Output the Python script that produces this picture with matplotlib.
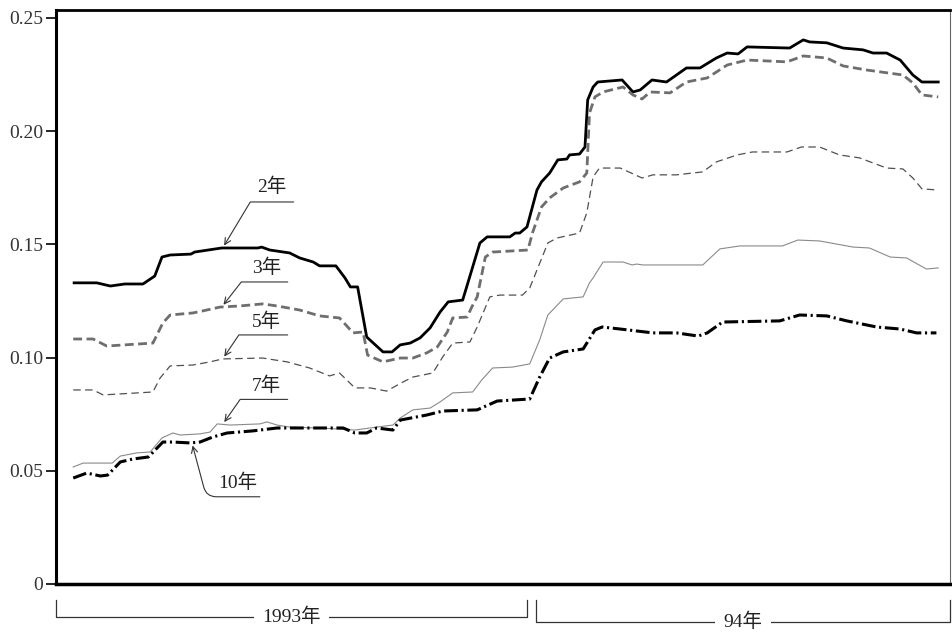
import matplotlib.pyplot as plt
import matplotlib.transforms as mtransforms
import numpy as np

plt.rcParams['font.family'] = ['Liberation Serif', 'Noto Sans CJK SC']

# x = weeks counted from the start of 1993, y = yield level
wk_2y = [2.0, 4.5, 6.0, 7.6, 9.6, 10.9, 11.7, 12.6, 14.9, 15.3, 18.3, 22.3, 22.7, 23.6, 25.8,
         26.9, 28.4, 29.1, 30.9, 31.9, 32.5, 33.3, 34.3, 36.1, 37.1, 38.0, 39.1, 40.2, 41.3, 42.4,
         43.3, 44.9, 46.8, 47.6, 50.1, 50.7, 51.2, 52.0, 53.1, 53.6, 54.5, 55.4, 56.4, 56.7, 57.8,
         58.4, 58.7, 59.3, 59.8, 62.5, 63.7, 64.5, 65.8, 67.4, 69.6, 71.1, 72.9, 74.1, 75.3, 76.3,
         81.0, 82.5, 83.2, 85.1, 86.9, 89.1, 90.2, 91.7, 93.2, 94.6, 95.6, 97.4]
r_2y = [0.1330, 0.1330, 0.1316, 0.1325, 0.1325, 0.1360, 0.1444, 0.1453, 0.1457, 0.1466, 0.1484, 0.1484, 0.1488, 0.1475, 0.1462,
        0.1440, 0.1422, 0.1405, 0.1405, 0.1352, 0.1312, 0.1312, 0.1091, 0.1025, 0.1025, 0.1056, 0.1064, 0.1087, 0.1131, 0.1201,
        0.1246, 0.1254, 0.1506, 0.1533, 0.1533, 0.1550, 0.1550, 0.1577, 0.1740, 0.1776, 0.1815, 0.1873, 0.1877, 0.1895, 0.1899,
        0.1930, 0.2138, 0.2195, 0.2217, 0.2226, 0.2173, 0.2182, 0.2226, 0.2217, 0.2279, 0.2279, 0.2323, 0.2345, 0.2341, 0.2372,
        0.2367, 0.2403, 0.2394, 0.2390, 0.2367, 0.2359, 0.2345, 0.2345, 0.2314, 0.2248, 0.2217, 0.2217]

wk_3y = [1.9, 4.1, 5.6, 10.7, 11.8, 12.6, 15.1, 16.2, 18.1, 20.3, 22.8, 24.4, 26.9, 29.1, 31.3,
         32.8, 33.9, 34.4, 36.1, 38.0, 39.4, 40.9, 42.1, 43.2, 43.8, 45.4, 45.9, 46.5, 47.4, 48.2,
         52.1, 52.6, 53.6, 54.5, 56.0, 57.8, 58.6, 58.9, 59.5, 60.4, 62.6, 63.7, 64.7, 65.6, 67.8,
         69.6, 71.9, 74.1, 76.3, 80.7, 82.5, 85.1, 86.9, 89.5, 93.5, 94.6, 95.6, 97.4]
r_3y = [0.1082, 0.1082, 0.1051, 0.1064, 0.1153, 0.1188, 0.1197, 0.1206, 0.1223, 0.1228, 0.1237, 0.1228, 0.1210, 0.1184, 0.1175,
        0.1109, 0.1113, 0.1011, 0.0981, 0.0998, 0.0998, 0.1020, 0.1047, 0.1113, 0.1175, 0.1179, 0.1223, 0.1268, 0.1444, 0.1466,
        0.1475, 0.1550, 0.1665, 0.1705, 0.1749, 0.1776, 0.1815, 0.2080, 0.2151, 0.2173, 0.2195, 0.2160, 0.2142, 0.2173, 0.2169,
        0.2217, 0.2235, 0.2292, 0.2314, 0.2306, 0.2332, 0.2323, 0.2288, 0.2270, 0.2248, 0.2213, 0.2160, 0.2151]

wk_5y = [1.9, 4.1, 5.2, 10.7, 11.5, 12.6, 15.1, 17.0, 18.4, 22.8, 25.5, 28.0, 30.2, 31.3, 33.0,
         34.7, 36.5, 38.3, 39.4, 41.6, 42.7, 43.8, 45.7, 46.5, 47.9, 49.0, 51.5, 52.3, 54.3, 55.3,
         57.8, 58.6, 59.3, 60.0, 62.3, 64.7, 65.9, 68.5, 71.4, 72.9, 75.2, 76.9, 80.7, 82.3, 84.3,
         86.5, 88.7, 91.7, 93.5, 94.6, 95.6, 97.4]
r_5y = [0.0857, 0.0857, 0.0835, 0.0848, 0.0910, 0.0963, 0.0967, 0.0981, 0.0994, 0.0998, 0.0981, 0.0954, 0.0919, 0.0932, 0.0866,
        0.0866, 0.0852, 0.0892, 0.0914, 0.0932, 0.1003, 0.1064, 0.1069, 0.1135, 0.1268, 0.1276, 0.1276, 0.1307, 0.1506, 0.1528,
        0.1550, 0.1639, 0.1798, 0.1837, 0.1837, 0.1793, 0.1807, 0.1807, 0.1820, 0.1864, 0.1895, 0.1908, 0.1908, 0.1930, 0.1930,
        0.1895, 0.1882, 0.1837, 0.1833, 0.1793, 0.1745, 0.1740]

wk_7y = [1.9, 3.0, 6.2, 7.1, 8.9, 10.4, 11.7, 12.9, 13.7, 15.9, 17.0, 17.8, 19.2, 22.5, 23.3,
         24.4, 25.8, 29.1, 33.0, 35.4, 37.2, 38.0, 39.4, 41.3, 42.4, 43.8, 46.0, 47.0, 48.2, 50.4,
         52.3, 53.4, 54.3, 56.0, 58.2, 58.9, 59.3, 60.4, 62.6, 63.6, 64.1, 64.8, 71.4, 73.3, 75.5,
         80.2, 81.9, 84.3, 88.0, 89.8, 92.1, 93.9, 96.1, 97.4]
r_7y = [0.0517, 0.0534, 0.0534, 0.0565, 0.0579, 0.0583, 0.0645, 0.0667, 0.0658, 0.0663, 0.0671, 0.0707, 0.0702, 0.0707, 0.0716,
        0.0702, 0.0693, 0.0689, 0.0680, 0.0693, 0.0702, 0.0733, 0.0769, 0.0777, 0.0804, 0.0844, 0.0848, 0.0901, 0.0954, 0.0958,
        0.0972, 0.1078, 0.1188, 0.1259, 0.1268, 0.1330, 0.1352, 0.1422, 0.1422, 0.1409, 0.1413, 0.1409, 0.1409, 0.1480, 0.1493,
        0.1493, 0.1519, 0.1515, 0.1488, 0.1484, 0.1444, 0.1440, 0.1391, 0.1396]

wk_10y = [1.9, 3.4, 4.9, 5.7, 7.1, 8.5, 10.2, 11.8, 12.9, 14.8, 15.9, 17.3, 18.9, 21.7, 24.4,
          31.7, 33.0, 34.3, 35.4, 37.2, 38.0, 40.9, 42.7, 46.5, 48.7, 52.3, 53.4, 54.5, 56.0, 58.2,
          59.5, 60.3, 62.3, 65.9, 68.5, 70.9, 71.9, 73.6, 79.9, 82.1, 85.1, 87.3, 90.6, 93.2, 95.0, 97.2]
r_10y = [0.0468, 0.0490, 0.0477, 0.0481, 0.0539, 0.0552, 0.0561, 0.0627, 0.0627, 0.0623, 0.0627, 0.0649, 0.0667, 0.0676, 0.0689,
         0.0689, 0.0667, 0.0667, 0.0689, 0.0680, 0.0724, 0.0746, 0.0764, 0.0769, 0.0808, 0.0817, 0.0914, 0.0998, 0.1025, 0.1038,
         0.1122, 0.1135, 0.1126, 0.1109, 0.1109, 0.1095, 0.1109, 0.1157, 0.1162, 0.1188, 0.1184, 0.1162, 0.1135, 0.1126, 0.1109, 0.1109]

tenors = ['2年', '3年', '5年', '7年', '10年']
label_wk = [18.4, 18.3, 18.4, 18.4, 15.0]   # where each leader points
years = ['1993年', '94年']
year_start = [0, 53]
year_end = [52, 98.7]

y_ticks = [0, 0.05, 0.10, 0.15, 0.20, 0.25]
y_ticklabels = ['0', '0.05', '0.10', '0.15', '0.20', '0.25']

# ---- figure
fig = plt.figure(figsize=(9.52, 6.34), dpi=100)
ax = fig.add_axes([56 / 952, 50 / 634, 894 / 952, 574 / 634])

series = [(wk_2y, r_2y), (wk_3y, r_3y), (wk_5y, r_5y), (wk_7y, r_7y), (wk_10y, r_10y)]
styles = [
    dict(color='black', lw=2.0, ls='-'),
    dict(color='#6e6e6e', lw=2.0, ls=(0, (3.2, 1.6))),
    dict(color='#505050', lw=0.9, ls=(0, (6, 3.5))),
    dict(color='#8a8a8a', lw=0.8, ls='-'),
    dict(color='black', lw=2.2, ls=(0, (4.5, 1.2, 0.7, 1.2))),
]
for (wk, r), st in zip(series, styles):
    ax.plot(wk, r, solid_joinstyle='round', dash_capstyle='butt', **st)

ax.set_xlim(0, 98.7)
ax.set_ylim(0, 0.2535)
ax.set_xticks([])
ax.set_yticks(y_ticks)
ax.set_yticklabels(y_ticklabels)
ax.tick_params(axis='y', direction='out', length=7, width=1.2, labelsize=14,
               labelcolor='#333333', pad=2)

ax.spines['left'].set_linewidth(2.2)
ax.spines['bottom'].set_linewidth(2.5)
ax.spines['top'].set_linewidth(2.0)
ax.spines['right'].set_linewidth(0.8)
ax.spines['right'].set_color('#666666')

# leaders: end of horizontal stroke (px from tip), slant angle, label offset (px)
px = 0.72
lead_end = [(71, 46), (66, 25), (65, 24), (65, 25), (68, -54)]
lead_ang = [59, 52, 56, 55, -75]
lead_rad = [0, 0, 0, 0, 10]
lab_off = [(49, 61), (45, 39), (44, 37), (44, 39), (46, -40)]

for i, name in enumerate(tenors):
    wk, r = series[i]
    tip = (label_wk[i], np.interp(label_wk[i], wk, r))
    ex, ey = lead_end[i]
    ax.annotate('', xy=tip, xytext=(ex * px, ey * px), textcoords='offset points',
                arrowprops=dict(arrowstyle='->,head_length=0.45,head_width=0.22',
                                connectionstyle='angle,angleA=0,angleB=%d,rad=%d' % (lead_ang[i], lead_rad[i]),
                                color='#333333', lw=0.8, shrinkA=0, shrinkB=2))
    lx, ly = lab_off[i]
    ax.annotate(name, xy=tip, xytext=(lx * px, ly * px), textcoords='offset points',
                ha='center', va='center', fontsize=14, color='#222222')

# year brackets under the axis
trans = mtransforms.blended_transform_factory(ax.transData, ax.transAxes)
y_top = -0.028
y_low = [-0.0575, -0.066]
for name, x0, x1, yl in zip(years, year_start, year_end, y_low):
    ax.plot([x0, x0, x1, x1], [y_top, yl, yl, y_top], transform=trans, clip_on=False,
            color='#333333', lw=0.9)
    ax.text((x0 + x1) / 2, yl, name, transform=trans, ha='center', va='center',
            fontsize=14, color='#222222',
            bbox=dict(facecolor='white', edgecolor='none', pad=6))

fig.savefig('out.png', dpi=100)
